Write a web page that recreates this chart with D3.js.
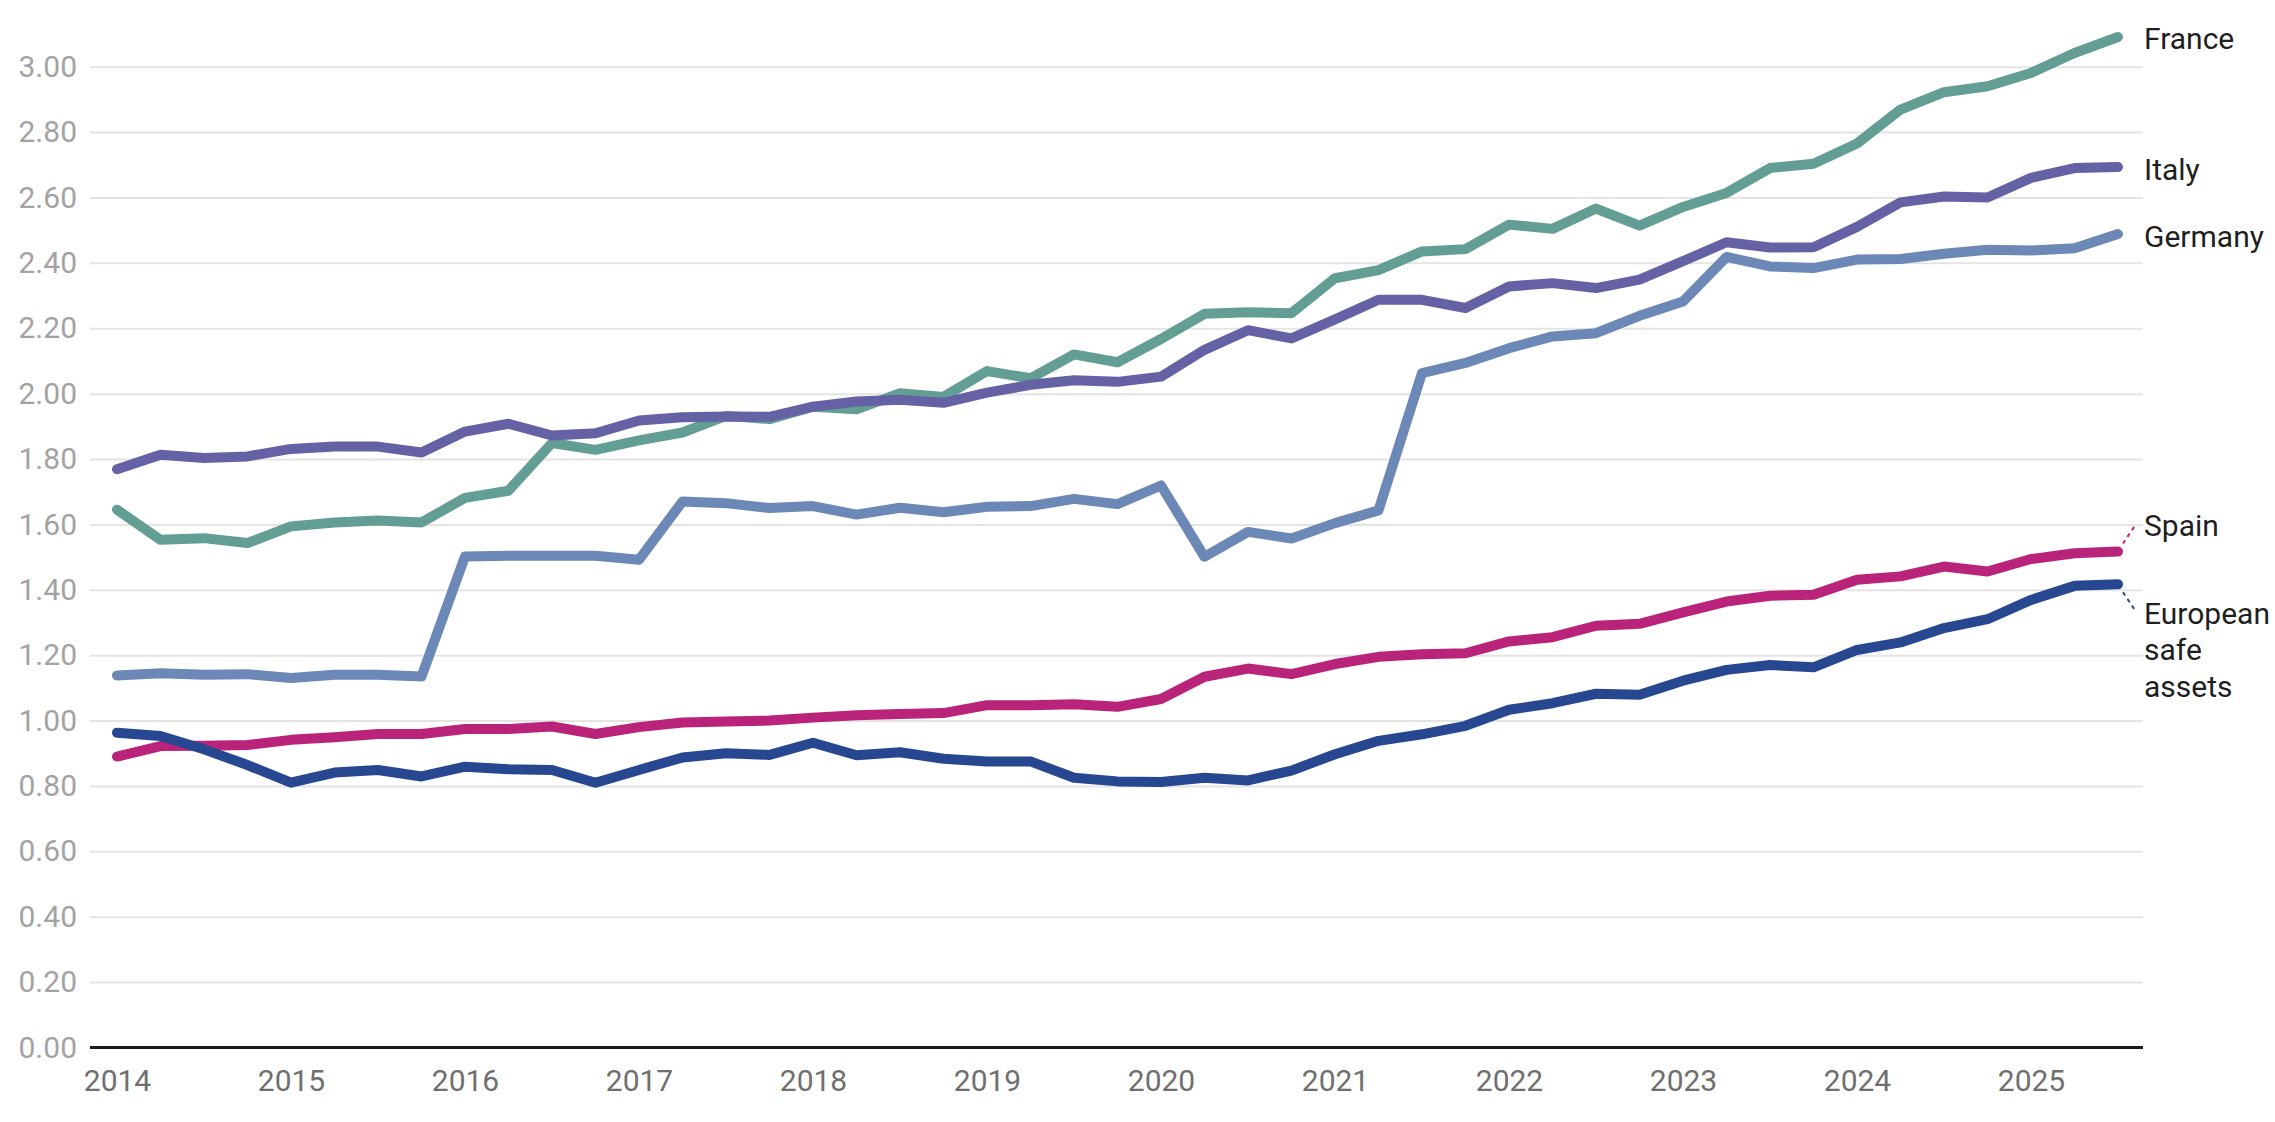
<!DOCTYPE html>
<html>
<head>
<meta charset="utf-8">
<script src="https://cdn.jsdelivr.net/npm/d3@7"></script>
<style>
    html, body { margin: 0; padding: 0; background: #fff; }
    svg { display: block; font-family: Roboto, "Noto Sans", sans-serif; }
</style>
</head>
<body>
<svg id="chart" width="2275" height="1122"></svg>
<script>
var quarters = [
    "2014-Q1", "2014-Q2", "2014-Q3", "2014-Q4",
    "2015-Q1", "2015-Q2", "2015-Q3", "2015-Q4",
    "2016-Q1", "2016-Q2", "2016-Q3", "2016-Q4",
    "2017-Q1", "2017-Q2", "2017-Q3", "2017-Q4",
    "2018-Q1", "2018-Q2", "2018-Q3", "2018-Q4",
    "2019-Q1", "2019-Q2", "2019-Q3", "2019-Q4",
    "2020-Q1", "2020-Q2", "2020-Q3", "2020-Q4",
    "2021-Q1", "2021-Q2", "2021-Q3", "2021-Q4",
    "2022-Q1", "2022-Q2", "2022-Q3", "2022-Q4",
    "2023-Q1", "2023-Q2", "2023-Q3", "2023-Q4",
    "2024-Q1", "2024-Q2", "2024-Q3", "2024-Q4",
    "2025-Q1", "2025-Q2", "2025-Q3"
];

var france = [1.645, 1.553, 1.558, 1.543, 1.594, 1.606, 1.612, 1.606, 1.681, 1.703,
    1.849, 1.828, 1.857, 1.881, 1.932, 1.922, 1.960, 1.952, 2.001, 1.990,
    2.069, 2.047, 2.120, 2.096, 2.167, 2.244, 2.249, 2.246, 2.353, 2.378,
    2.435, 2.442, 2.517, 2.504, 2.566, 2.514, 2.571, 2.614, 2.690, 2.703,
    2.765, 2.869, 2.922, 2.940, 2.981, 3.042, 3.091];

var italy = [1.769, 1.813, 1.803, 1.808, 1.831, 1.838, 1.838, 1.820, 1.884, 1.908,
    1.872, 1.879, 1.918, 1.928, 1.930, 1.929, 1.960, 1.976, 1.981, 1.972,
    2.003, 2.027, 2.041, 2.036, 2.052, 2.134, 2.194, 2.169, 2.227, 2.287,
    2.287, 2.262, 2.328, 2.338, 2.323, 2.349, 2.405, 2.463, 2.447, 2.448,
    2.510, 2.585, 2.603, 2.600, 2.660, 2.690, 2.693];

var germany = [1.138, 1.145, 1.140, 1.142, 1.130, 1.140, 1.140, 1.135, 1.502, 1.504,
    1.504, 1.504, 1.492, 1.670, 1.665, 1.650, 1.656, 1.630, 1.651, 1.637,
    1.654, 1.656, 1.678, 1.662, 1.719, 1.501, 1.577, 1.557, 1.604, 1.643,
    2.063, 2.094, 2.139, 2.175, 2.185, 2.238, 2.282, 2.418, 2.389, 2.384,
    2.410, 2.412, 2.428, 2.440, 2.438, 2.445, 2.488];

var spain = [0.890, 0.922, 0.923, 0.925, 0.941, 0.949, 0.959, 0.959, 0.974, 0.974,
    0.982, 0.959, 0.980, 0.994, 0.997, 1.000, 1.009, 1.016, 1.020, 1.023,
    1.047, 1.047, 1.050, 1.042, 1.066, 1.134, 1.159, 1.142, 1.173, 1.195,
    1.203, 1.206, 1.242, 1.255, 1.290, 1.296, 1.331, 1.364, 1.382, 1.385,
    1.431, 1.441, 1.471, 1.456, 1.494, 1.512, 1.517];

var safeAssets = [0.963, 0.953, 0.912, 0.864, 0.810, 0.841, 0.849, 0.829, 0.859, 0.851,
    0.849, 0.810, 0.849, 0.887, 0.900, 0.895, 0.932, 0.894, 0.903, 0.883,
    0.875, 0.875, 0.825, 0.814, 0.812, 0.825, 0.817, 0.847, 0.897, 0.938,
    0.958, 0.984, 1.033, 1.053, 1.082, 1.079, 1.122, 1.155, 1.170, 1.163,
    1.216, 1.239, 1.283, 1.310, 1.369, 1.412, 1.417];

var yearTicks = [2014, 2015, 2016, 2017, 2018, 2019, 2020, 2021, 2022, 2023, 2024, 2025];
var valueTicks = [0, 0.2, 0.4, 0.6, 0.8, 1.0, 1.2, 1.4, 1.6, 1.8, 2.0, 2.2, 2.4, 2.6, 2.8, 3.0];

// drawing order: first ones end up underneath
var series = [
    {name: ["France"], values: france, color: "#639e94", labelDy: 0},
    {name: ["Germany"], values: germany, color: "#6b88b6", labelDy: 0},
    {name: ["Italy"], values: italy, color: "#6462a4", labelDy: 0},
    {name: ["Spain"], values: spain, color: "#b9237a", labelDy: -28, leader: -1},
    {name: ["European", "safe", "assets"], values: safeAssets, color: "#284791", labelDy: 27, leader: 1}
];

function quarterToYear(q) {
    var parts = q.split("-Q");
    return +parts[0] + (+parts[1] - 1) / 4;
}

var svg = d3.select("#chart");
var plotLeft = 90, plotRight = 2143;

var x = d3.scaleLinear()
    .domain([2014, 2025.5])
    .range([117, 2118]);

var y = d3.scaleLinear()
    .domain([0, 3])
    .range([1047.5, 66.7]);

// horizontal grid + value labels
var yAxis = d3.axisLeft(y)
    .tickValues(valueTicks)
    .tickFormat(d3.format(".2f"))
    .tickSize(-(plotRight - plotLeft))
    .tickPadding(13);

var gy = svg.append("g")
    .attr("transform", "translate(" + plotLeft + ",0)")
    .call(yAxis);
gy.select(".domain").remove();
gy.selectAll(".tick line")
    .attr("stroke", "#e4e4e4")
    .attr("stroke-width", 2);
gy.selectAll(".tick text")
    .attr("fill", "#a3a3a3")
    .style("font-size", "30px")
    .style("font-family", "Roboto, sans-serif");

// baseline
svg.append("line")
    .attr("x1", plotLeft)
    .attr("x2", plotRight)
    .attr("y1", y(0))
    .attr("y2", y(0))
    .attr("stroke", "#1c1c1c")
    .attr("stroke-width", 3);

var xAxis = d3.axisBottom(x)
    .tickValues(yearTicks)
    .tickFormat(d3.format("d"))
    .tickSize(0)
    .tickPadding(22);

var gx = svg.append("g")
    .attr("transform", "translate(0," + y(0) + ")")
    .call(xAxis);
gx.select(".domain").remove();
gx.selectAll(".tick text")
    .attr("fill", "#6f6f6f")
    .style("font-size", "30px")
    .style("font-family", "Roboto, sans-serif");

var line = d3.line()
    .x(function (d, i) { return x(quarterToYear(quarters[i])); })
    .y(function (d) { return y(d); });

series.forEach(function (s) {
    svg.append("path")
        .datum(s.values)
        .attr("fill", "none")
        .attr("stroke", s.color)
        .attr("stroke-width", 10)
        .attr("stroke-linejoin", "round")
        .attr("stroke-linecap", "round")
        .attr("d", line);
});

// end labels
series.forEach(function (s) {
    var last = s.values.length - 1;
    var ex = x(quarterToYear(quarters[last]));
    var ey = y(s.values[last]);

    if (s.leader) {
        svg.append("line")
            .attr("x1", ex + 5)
            .attr("y1", ey + s.leader * 8)
            .attr("x2", ex + 17)
            .attr("y2", ey + s.leader * 26)
            .attr("stroke", s.color)
            .attr("stroke-width", 2)
            .attr("stroke-dasharray", "4,4");
    }

    var text = svg.append("text")
        .attr("x", plotRight + 1)
        .attr("y", ey + s.labelDy + 2)
        .attr("fill", "#1f1f1f")
        .style("font-size", "30px")
        .style("font-family", "Roboto, sans-serif");

    s.name.forEach(function (part, k) {
        text.append("tspan")
            .attr("x", plotRight + 1)
            .attr("dy", k === 0 ? "0.35em" : "1.22em")
            .text(part);
    });
});
</script>
</body>
</html>
